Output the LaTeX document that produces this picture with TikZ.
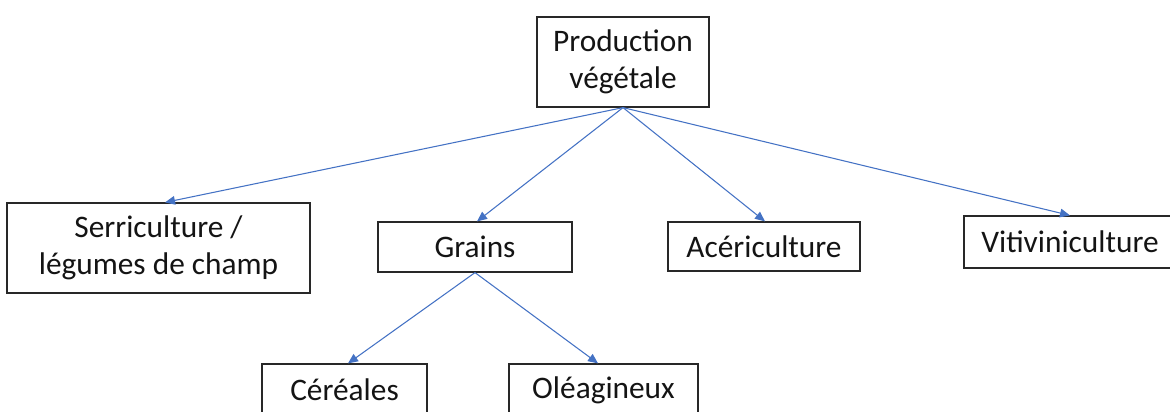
\documentclass[tikz,border=0pt]{standalone}
\usepackage{fontspec}
\setmainfont{Carlito}
\usetikzlibrary{arrows.meta,calc}
\definecolor{linkblue}{RGB}{68,114,196}
\definecolor{boxline}{RGB}{40,40,40}
\begin{document}
\begin{tikzpicture}[x=0.75pt,y=-0.75pt,
  box/.style={draw=boxline,line width=0.9pt,fill=white,inner sep=0pt,align=center,
    font=\fontsize{23.5}{28}\selectfont,text=black!92},
  link/.style={draw=linkblue,line width=0.8pt,-{Triangle[length=7.5pt,width=6.5pt]}}]
  \path[use as bounding box] (0,0) rectangle (1170,411);
  \clip (0,0) rectangle (1170,411);

  % hierarchy boxes
  \node[box,minimum width=129pt,minimum height=67.5pt] (prod) at (623,62) {Production\\végétale};
  \node[box,minimum width=227.25pt,minimum height=67.5pt] (serr) at (158.5,248) {Serriculture /\\légumes de champ};
  \node[box,minimum width=145.5pt,minimum height=37.5pt] (grains) at (475,247) {Grains};
  \node[box,minimum width=144pt,minimum height=36.75pt] (acer) at (764,246.5) {Acériculture};
  \node[box,minimum width=159pt,minimum height=39pt] (viti) at (1070,242) {Vitiviniculture};
  \node[box,minimum width=123.75pt,minimum height=39pt] (cer) at (344.5,390) {Céréales};
  \node[box,minimum width=141.75pt,minimum height=39pt] (ole) at (603.5,390) {Oléagineux};

  % links
  \draw[link] (prod.south) -- ([xshift=4.9pt]serr.north);
  \draw[link] (prod.south) -- ([xshift=1.5pt]grains.north);
  \draw[link] (prod.south) -- ([xshift=0.75pt]acer.north);
  \draw[link] (prod.south) -- (viti.north);
  \draw[link] (grains.south) -- ([xshift=2.6pt]cer.north);
  \draw[link] (grains.south) -- ([xshift=-4.1pt]ole.north);
\end{tikzpicture}
\end{document}
